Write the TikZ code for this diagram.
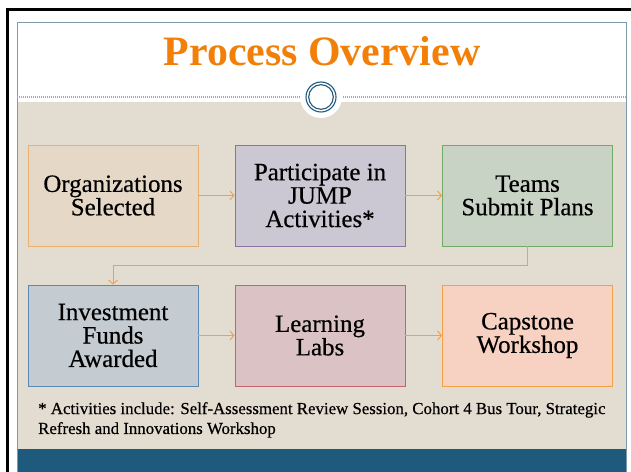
\documentclass[tikz,border=0pt]{standalone}
\usepackage{fontspec}
\setmainfont{Liberation Serif}
\newfontfamily\heavyserif{Liberation Serif}[FakeBold=0.5]
\usetikzlibrary{arrows.meta}
\definecolor{bgbeige}{HTML}{E3DDD1}
\definecolor{framec}{HTML}{7E98AC}
\definecolor{barblue}{HTML}{1D5A7B}
\definecolor{titleor}{HTML}{F28008}
\definecolor{arrowc}{HTML}{F0A04C}
\definecolor{fillA}{HTML}{E6D8C7}\definecolor{drawA}{HTML}{EBB06E}
\definecolor{fillB}{HTML}{CBC7D3}\definecolor{drawB}{HTML}{8C72A4}
\definecolor{fillC}{HTML}{C8D3C5}\definecolor{drawC}{HTML}{72AB66}
\definecolor{fillD}{HTML}{C4CBD1}\definecolor{drawD}{HTML}{5A8AB2}
\definecolor{fillE}{HTML}{DBC3C5}\definecolor{drawE}{HTML}{C2636D}
\definecolor{fillF}{HTML}{F7D1C1}\definecolor{drawF}{HTML}{F5A244}
\begin{document}
\begin{tikzpicture}[x=1bp,y=-1bp,
  stepbox/.style={minimum width=170bp,minimum height=101bp,inner sep=2bp,
    align=center,line width=0.9bp,font=\heavyserif\fontsize{25}{23.5}\selectfont},
  arr/.style={draw=arrowc,line width=0.9bp,-{Straight Barb[length=4bp,width=9bp]}}]
\useasboundingbox (0,0) rectangle (631,472);
\fill[white] (0,0) rectangle (631,472);
% outer black frame
\draw[black,line width=3bp] (7.5,480) -- (7.5,9.5) -- (640,9.5);
% slide areas
\fill[bgbeige] (17,102) rectangle (626,449);
\fill[barblue] (17,449) rectangle (626,472);
\draw[framec,line width=0.8bp] (17,472) -- (17,22) -- (626,22) -- (626,472);
% title
\node[font=\fontsize{42}{46}\selectfont\bfseries,text=titleor,anchor=base] (title) at (322,66) {Process Overview};
% dotted rule and ornament
\draw[framec!80,line width=1.2bp,dash pattern=on 1bp off 1bp] (17,97) -- (626,97);
\fill[white] (321,97) circle (21bp);
\draw[barblue,line width=1.1bp] (321,97) circle (15bp);
\draw[barblue,line width=1.1bp] (321,97) circle (12.3bp);
% boxes
\node[stepbox,fill=fillA,draw=drawA] (b1) at (113,195.5) {Organizations\\Selected};
\node[stepbox,fill=fillB,draw=drawB] (b2) at (320,195.5) {Participate in\\JUMP\\Activities*};
\node[stepbox,fill=fillC,draw=drawC] (b3) at (527.5,195.5) {Teams\\Submit Plans};
\node[stepbox,fill=fillD,draw=drawD] (b4) at (113,335.5) {Investment\\Funds\\Awarded};
\node[stepbox,fill=fillE,draw=drawE] (b5) at (320,335.5) {Learning\\Labs};
\node[stepbox,fill=fillF,draw=drawF] (b6) at (527.5,335.5) {Capstone\\Workshop};
% connectors
\draw[arr] (b1) -- (b2);
\draw[arr] (b2) -- (b3);
\draw[arr] (b3.south) |- (113,265.5) -- (b4.north);
\draw[arr] (b4) -- (b5);
\draw[arr] (b5) -- (b6);
% footnote
\node[anchor=north west,inner sep=0pt,align=left,font=\heavyserif\fontsize{16.9}{20}\selectfont] (note) at (38,402)
  {* Activities include: Self-Assessment Review Session, Cohort 4 Bus Tour, Strategic\\Refresh and Innovations Workshop};
\end{tikzpicture}
\end{document}
